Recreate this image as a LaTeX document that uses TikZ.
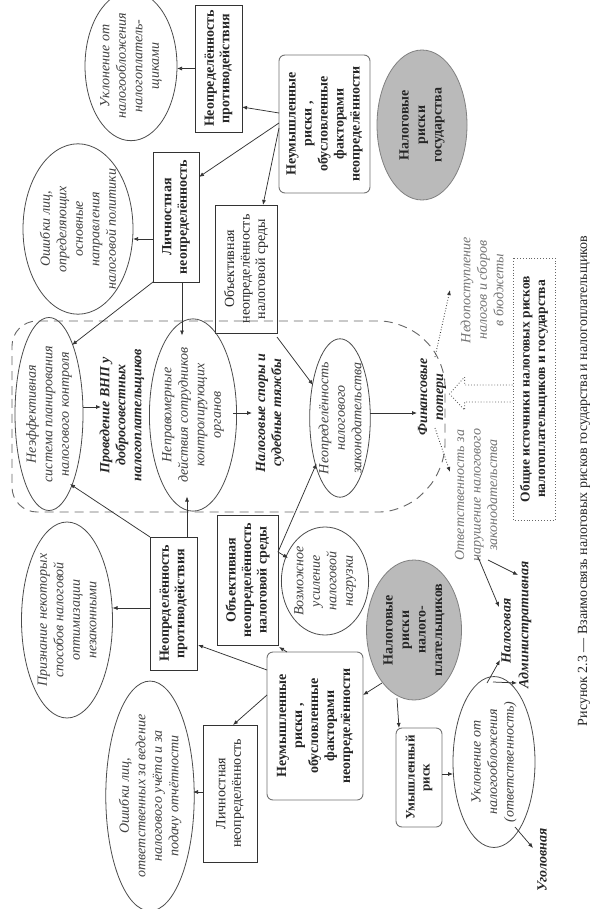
\documentclass[tikz,border=0pt]{standalone}
\usepackage{fontspec}
\setmainfont{Liberation Serif}
\usetikzlibrary{shapes.geometric,arrows.meta,calc}
\begin{document}
\begin{tikzpicture}[x=1pt,y=-1pt,
  bx/.style={draw=black!80, line width=0.9pt, rectangle, rotate=90, inner sep=1pt, align=center, text=black!85, font=\fontsize{14}{15.5}\selectfont},
  bxb/.style={bx, font=\fontsize{14}{15.5}\selectfont\bfseries},
  rbx/.style={bx, rounded corners=6pt, draw=black!55, font=\fontsize{14}{16}\selectfont\bfseries},
  el/.style={ellipse, draw=black!70, line width=0.8pt, rotate=90, inner sep=0pt, align=center, text=black!75, font=\fontsize{14}{16.5}\selectfont\itshape},
  gel/.style={ellipse, draw=black!50, fill=black!27, line width=0.8pt, rotate=90, inner sep=0pt, align=center, text=black!85, font=\fontsize{14}{16.5}\selectfont\bfseries},
  lbl/.style={rotate=90, align=center, inner sep=0pt, text=black!85, font=\fontsize{14}{16}\selectfont\bfseries\itshape},
  gtx/.style={rotate=90, align=center, inner sep=0pt, text=black!55, font=\fontsize{14}{16.5}\selectfont\itshape},
  arr/.style={-{Latex[length=5pt,width=4pt]}, line width=0.75pt, draw=black!80},
  darr/.style={arr, dotted, line width=0.9pt}
]
\fill[white] (0,0) rectangle (604,909);
\useasboundingbox (0,0) rectangle (604,909);

% dashed region
\draw[black!60, line width=0.9pt, dash pattern=on 9pt off 6pt, rounded corners=25pt]
  (12,420) -- (12,321) -- (405,321) -- (445,360) -- (445,470) -- (405,512) -- (12,512) -- cycle;

% ---------- top part (state) ----------
\node[bxb, minimum width=127pt, minimum height=47pt] (npT) at (218.5,68.5) {Неопределённость\\противодействия};
\node[el, minimum width=123pt, minimum height=92pt] (ukT) at (131,66) {Уклонение от\\налогообложения\\налогоплатель-\\щиками};
\node[rbx, minimum width=138pt, minimum height=91pt] (nuT) at (324.5,124) {Неумышленные\\риски ,\\обусловленные\\факторами\\неопределённости};
\node[gel, minimum width=150pt, minimum height=90pt] (grT) at (422,125) {Налоговые\\риски\\государства};
\node[bxb, minimum width=130pt, minimum height=46pt] (liT) at (176,217) {Личностная\\неопределённость};
\node[el, minimum width=155pt, minimum height=110pt] (ooT) at (78,229) {Ошибки лиц,\\определяющих\\основные\\направления\\налоговой политики};
\node[bx, minimum width=128pt, minimum height=62pt] (obT) at (246,269) {Объективная\\неопределённость\\налоговой среды};

% ---------- middle ----------
\node[el, minimum width=178pt, minimum height=68pt] (neE) at (49,414) {Неэффективная\\система планирования\\налогового контроля};
\node[lbl] (pv) at (122,415) {Проведение ВНП у\\добросовестных\\налогоплательщиков};
\node[el, minimum width=165pt, minimum height=80pt] (npE) at (193,415) {Неправомерные\\действия сотрудников\\контролирующих\\органов};
\node[lbl] (ns) at (270,413) {Налоговые споры и\\судебные тяжбы};
\node[el, minimum width=145pt, minimum height=60pt] (nzE) at (340,418) {Неопределённость\\налогового\\законодательства};
\node[lbl] (fp) at (432,397) {Финансовые\\потери};
\node[gtx] (nd) at (482,290) {Недопоступление\\налогов и сборов\\в бюджеты};
\node[bxb, dotted, draw=black!60, font=\fontsize{13.5}{15.5}\selectfont\bfseries, minimum width=262pt, minimum height=42pt] (og) at (534,389) {Общие источники налоговых рисков\\налогоплательщиков и государства};
\node[gtx] (ot) at (476,495) {Ответственность за\\нарушение налогового\\законодательства};
\node[lbl] (nal) at (506,631) {Налоговая};
\node[lbl] (adm) at (525,625) {Административная};

% ---------- bottom part (taxpayers) ----------
\node[gel, minimum width=140pt, minimum height=95pt] (grB) at (414,630) {Налоговые\\риски\\налого-\\плательщиков};
\node[rbx, minimum width=148pt, minimum height=96pt] (nuB) at (315,726) {Неумышленные\\риски ,\\обусловленные\\факторами\\неопределённости};
\node[bxb, minimum width=130pt, minimum height=61pt] (obB) at (247.5,580) {Объективная\\неопределённость\\налоговой среды};
\node[el, minimum width=108pt, minimum height=80pt] (vuE) at (325,581) {Возможное\\усиление\\налоговой\\нагрузки};
\node[bxb, minimum width=133pt, minimum height=47pt] (npB) at (173.5,603.5) {Неопределённость\\противодействия};
\node[el, minimum width=196pt, minimum height=91pt] (prE) at (67,620) {Признание некоторых\\способов налоговой\\оптимизации\\незаконными};
\node[bx, minimum width=137pt, minimum height=54pt] (liB) at (230,793.5) {Личностная\\неопределённость};
\node[el, minimum width=192pt, minimum height=86pt] (olE) at (150,796) {Ошибки лиц,\\ответственных за ведение\\налогового учёта и за\\подачу отчётности};
\node[rbx, font=\fontsize{13}{15}\selectfont\bfseries, minimum width=99pt, minimum height=46pt] (umB) at (419,777.5) {Умышленный\\риск};
\node[el, minimum width=160pt, minimum height=82pt] (ukB) at (494,762) {Уклонение от\\налогообложения\\(ответственность)};
\node[lbl] (ug) at (542,860) {Уголовная};

\node[rotate=90, inner sep=0pt, text=black!85, font=\fontsize{14}{16}\selectfont] (cap) at (584,481) {Рисунок 2.3 — Взаимосвязь налоговых рисков государства и налогоплательщиков};

% ---------- connectors ----------
\draw[arr] ($(npT)+(-23.5,0)$) -- ($(ukT)+(46,2.5)$);
\draw[arr] ($(nuT)+(-45.5,-11)$) -- ($(npT)+(23.5,38.5)$);
\draw[arr] ($(nuT)+(-45.5,-1)$) -- ($(liT)+(23,-40)$);
\draw[arr] ($(nuT)+(-45.5,4)$) -- ($(obT)+(17,-64)$);
\draw[arr] ($(liT)+(-23,22)$) -- ($(ooT)+(55,10)$);
\draw[arr] ($(liT)+(-23,65)$) -- ($(neE)+(23,-69)$);
\draw[arr] ($(liT)+(6,65)$) -- ($(npE)+(-11,-79.5)$);
\draw[arr] ($(neE)+(34,-7)$) -- ($(pv)+(-21,-8)$);
\draw[arr] ($(npE)+(40,-2)$) -- ($(ns)+(-18,0)$);
\draw[arr] ($(obT)+(31,68)$) -- ($(nzE)+(-27,-33)$);
\draw[arr] ($(obB)+(30.5,-28)$) -- ($(nzE)+(-23.5,45.5)$);
\draw[arr] ($(nzE)+(30,-5)$) -- ($(fp)+(-15,16)$);
\draw[darr] ($(fp)+(3,-40)$) -- ($(nd)+(-32,0)$);
\draw[darr] ($(fp)+(3,31)$) -- ($(ot)+(-26,-23)$);
\draw[black!60, line width=0.9pt, dotted]
  ($(og.north)+(0,-4)$) -- ++(-48,0) -- ++(0,-8) -- ++(-15,17) -- ++(15,16) -- ++(0,-8) -- ++(48,0);
\draw[arr] ($(ot)+(2,62)$) -- ($(nal)+(-7,-24)$);
\draw[arr] ($(ot)+(12,65)$) -- ($(adm)+(-7,-50)$);
\draw[arr] ($(grB)+(-32,53)$) -- ($(nuB)+(48,-31)$);
\draw[arr] ($(grB)+(-17,68)$) -- ($(umB)+(-20,-49.5)$);
\draw[arr] ($(nuB)+(-28,-74)$) -- ($(obB)+(31.5,67)$);
\draw[arr] ($(obB)+(30.5,-28)$) -- ($(vuE)+(-37,-23)$);
\draw[arr] ($(nuB)+(-48,-56)$) -- ($(npB)+(24.5,41.5)$);
\draw[arr] ($(npB)+(-23.5,-66.5)$) -- ($(neE)+(21,70)$);
\draw[arr] ($(npB)+(13.5,-66.5)$) -- ($(npE)+(-6,81.5)$);
\draw[arr] ($(npB)+(-23.5,4.5)$) -- ($(prE)+(45.5,-12)$);
\draw[arr] ($(nuB)+(-48,-31)$) -- ($(liB)+(3,-68.5)$);
\draw[arr] ($(liB)+(-27,-1.5)$) -- ($(olE)+(43,-4)$);
\draw[arr] ($(umB)+(23,-3.5)$) -- ($(ukB)+(-41,12)$);
\draw[arr] ($(ukB)+(-7,-79)$) -- ($(nal)+(-6,29)$);
\draw[arr] ($(ukB)+(-1,-80)$) -- ($(adm)+(-8,58)$);
\draw[arr] ($(ukB)+(21,65)$) -- ($(ug)+(-9,-12)$);
\end{tikzpicture}
\end{document}
